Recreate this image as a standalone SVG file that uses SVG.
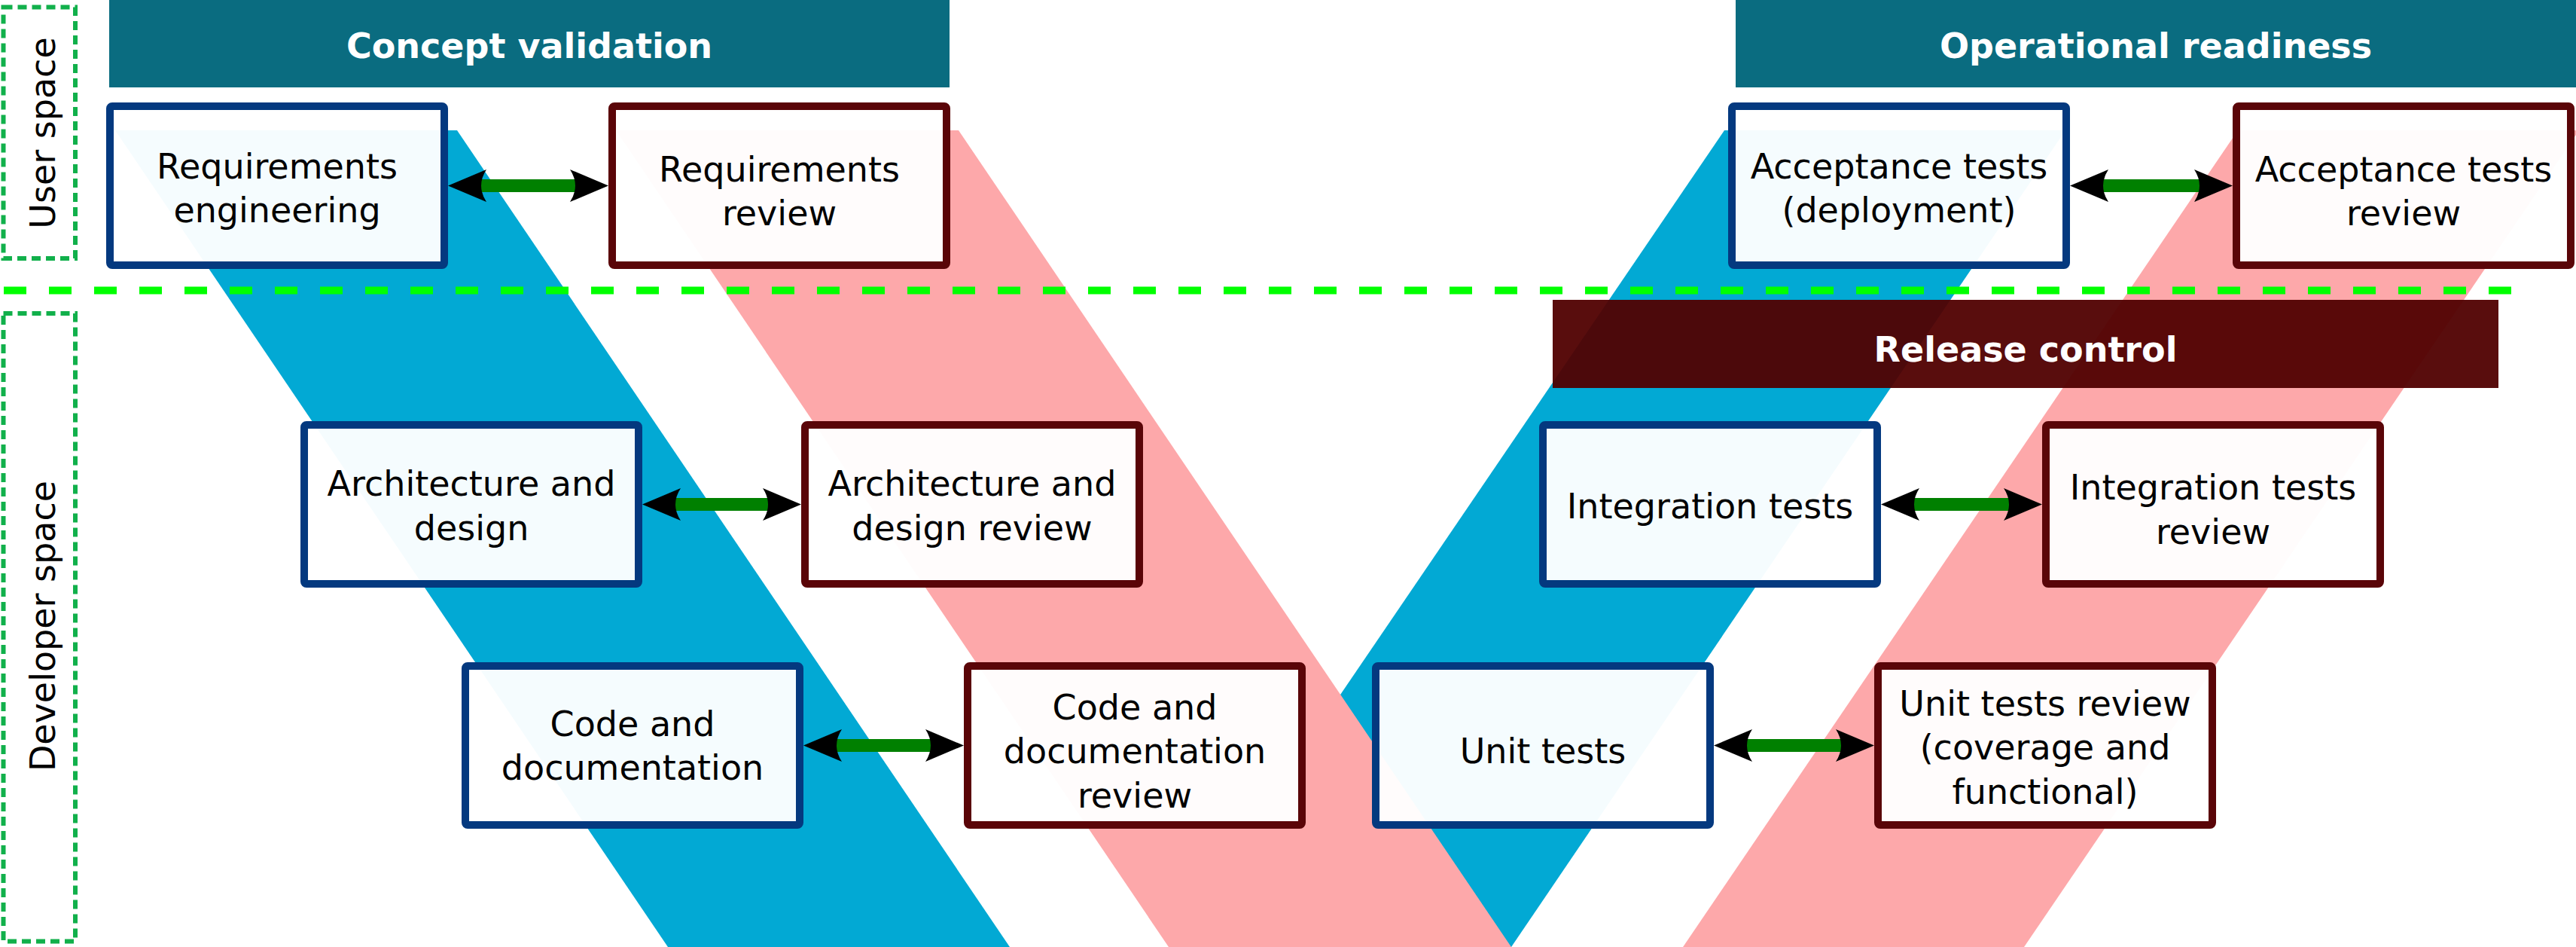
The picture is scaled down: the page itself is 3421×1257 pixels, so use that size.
<svg xmlns="http://www.w3.org/2000/svg" width="3421" height="1257" viewBox="0 0 3421 1257">
<style>
  .t{font-family:"DejaVu Sans","Liberation Sans",sans-serif;font-size:46px;fill:#000;text-anchor:middle}
  .h{font-family:"DejaVu Sans","Liberation Sans",sans-serif;font-size:46px;font-weight:bold;fill:#fff;text-anchor:middle}
  .bx{fill:#fff;fill-opacity:0.96;stroke-width:10}
  .dev{stroke:#04397f}
  .rev{stroke:#5a0508}
  .lane{fill:none;stroke:#11b04b;stroke-width:6;stroke-dasharray:12 7}
  .lnk{stroke:#008000;stroke-width:17;fill:none;marker-start:url(#ah);marker-end:url(#ah)}
</style>
<defs>
  <marker id="ah" viewBox="0 0 51 43" refX="10" refY="21.5" markerWidth="51" markerHeight="43" markerUnits="userSpaceOnUse" orient="auto-start-reverse">
    <path d="M51,21.5 L0,0 Q14,21.5 0,43 Z" fill="#000"/>
  </marker>
</defs>
<rect width="3421" height="1257" fill="#fff"/>
<g id="bands">
  <polygon points="153,173 607,173 1341,1257 887,1257" fill="#02a9d4"/>
  <polygon points="2290,173 2743,173 2007,1257 1552,1257" fill="#02a9d4"/>
  <polygon points="818,173 1273,173 2007,1257 1552,1257" fill="#fda8aa"/>
  <polygon points="2972,173 3425,173 2688,1257 2235,1257" fill="#fda8aa"/>
</g>
<g id="lanes">
  <rect class="lane" x="4.5" y="9.5" width="95.5" height="333.5"/>
  <text class="t" transform="translate(73,176.5) rotate(-90)">User space</text>
  <rect class="lane" x="4.5" y="416" width="95.5" height="833.5"/>
  <text class="t" transform="translate(73,831) rotate(-90)">Developer space</text>
  <line x1="5" y1="385.5" x2="3335" y2="385.5" stroke="#00ff00" stroke-width="10" stroke-dasharray="30 30"/>
</g>
<g id="concept-validation">
  <rect x="145" y="0" width="1116" height="116" fill="#0a6c80"/>
  <text class="h" x="703" y="77">Concept validation</text>
</g>
<g id="operational-readiness">
  <rect x="2305" y="0" width="1116" height="116" fill="#0a6c80"/>
  <text class="h" x="2863" y="77">Operational readiness</text>
</g>
<g id="release-control">
  <rect x="2062" y="398" width="1256" height="117" fill="#500000" fill-opacity="0.95"/>
  <text class="h" x="2690" y="480">Release control</text>
</g>
<g id="requirements-engineering">
  <rect class="bx dev" x="146" y="141" width="444" height="211" rx="3"/>
  <text class="t" x="368" y="237">Requirements</text>
  <text class="t" x="368" y="295">engineering</text>
</g>
<g id="requirements-review">
  <rect class="bx rev" x="813" y="141" width="444" height="211" rx="3"/>
  <text class="t" x="1035" y="241">Requirements</text>
  <text class="t" x="1035" y="299">review</text>
</g>
<g id="acceptance-tests">
  <rect class="bx dev" x="2300" y="141" width="444" height="211" rx="3"/>
  <text class="t" x="2522" y="237">Acceptance tests</text>
  <text class="t" x="2522" y="295">(deployment)</text>
</g>
<g id="acceptance-tests-review">
  <rect class="bx rev" x="2970" y="141" width="444" height="211" rx="3"/>
  <text class="t" x="3192" y="241">Acceptance tests</text>
  <text class="t" x="3192" y="299">review</text>
</g>
<g id="architecture-design">
  <rect class="bx dev" x="404" y="564" width="444" height="211" rx="3"/>
  <text class="t" x="626" y="658">Architecture and</text>
  <text class="t" x="626" y="717">design</text>
</g>
<g id="architecture-design-review">
  <rect class="bx rev" x="1069" y="564" width="444" height="211" rx="3"/>
  <text class="t" x="1291" y="658">Architecture and</text>
  <text class="t" x="1291" y="717">design review</text>
</g>
<g id="integration-tests">
  <rect class="bx dev" x="2049" y="564" width="444" height="211" rx="3"/>
  <text class="t" x="2271" y="688">Integration tests</text>
</g>
<g id="integration-tests-review">
  <rect class="bx rev" x="2717" y="564" width="444" height="211" rx="3"/>
  <text class="t" x="2939" y="663">Integration tests</text>
  <text class="t" x="2939" y="722">review</text>
</g>
<g id="code-documentation">
  <rect class="bx dev" x="618" y="884" width="444" height="211" rx="3"/>
  <text class="t" x="840" y="977">Code and</text>
  <text class="t" x="840" y="1035">documentation</text>
</g>
<g id="code-documentation-review">
  <rect class="bx rev" x="1285" y="884" width="444" height="211" rx="3"/>
  <text class="t" x="1507" y="955">Code and</text>
  <text class="t" x="1507" y="1013">documentation</text>
  <text class="t" x="1507" y="1072">review</text>
</g>
<g id="unit-tests">
  <rect class="bx dev" x="1827" y="884" width="444" height="211" rx="3"/>
  <text class="t" x="2049" y="1013">Unit tests</text>
</g>
<g id="unit-tests-review">
  <rect class="bx rev" x="2494" y="884" width="444" height="211" rx="3"/>
  <text class="t" x="2716" y="950">Unit tests review</text>
  <text class="t" x="2716" y="1008">(coverage and</text>
  <text class="t" x="2716" y="1067">functional)</text>
</g>
<g id="connectors">
  <line class="lnk" x1="636" y1="246.5" x2="767" y2="246.5"/>
  <line class="lnk" x1="2790" y1="246.5" x2="2924" y2="246.5"/>
  <line class="lnk" x1="894" y1="669.5" x2="1023" y2="669.5"/>
  <line class="lnk" x1="2539" y1="669.5" x2="2671" y2="669.5"/>
  <line class="lnk" x1="1108" y1="989.5" x2="1239" y2="989.5"/>
  <line class="lnk" x1="2317" y1="989.5" x2="2448" y2="989.5"/>
</g>
</svg>
